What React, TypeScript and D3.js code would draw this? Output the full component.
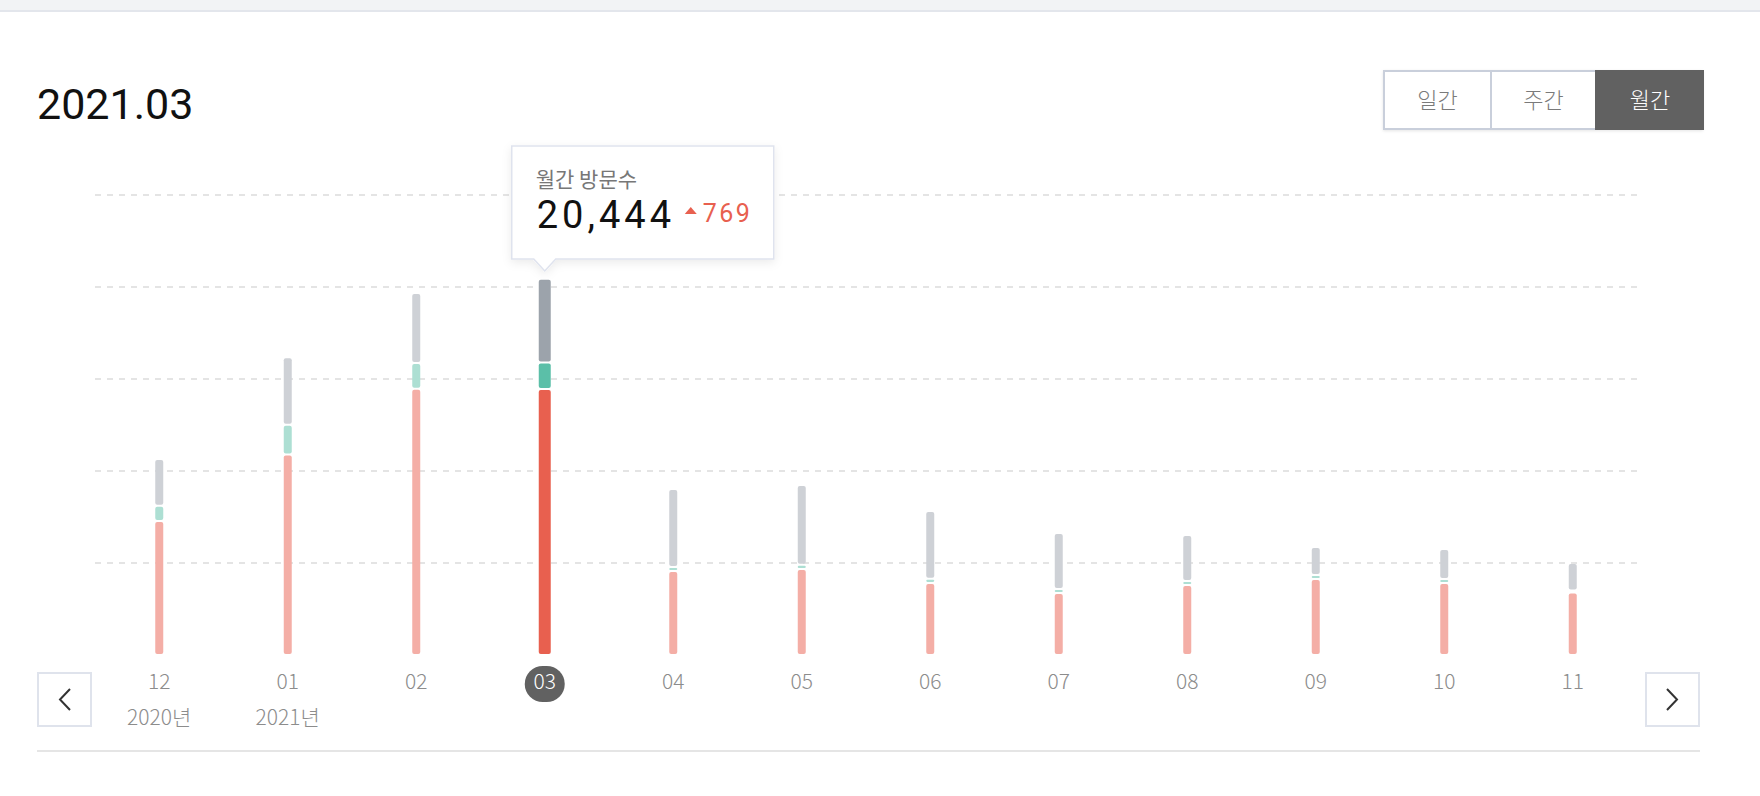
import React from "react";
import * as d3 from "d3";

const months = ["12", "01", "02", "03", "04", "05", "06", "07", "08", "09", "10", "11"];
const yearLabels = ["2020년", "2021년", "", "", "", "", "", "", "", "", "", ""];
const redValues = [7280, 10890, 14470, 14457, 4565, 4674, 3913, 3370, 3804, 4130, 3913, 3400];
const greenValues = [830, 1630, 1400, 1440, 218, 228, 234, 217, 218, 218, 217, 100];
const grayValues = [2540, 3660, 3805, 4547, 4239, 4337, 3679, 3043, 2500, 1522, 1631, 1500];
const gridTicks = [5000, 10000, 15000, 20000, 25000];
const periodButtons = ["일간", "주간", "월간"];

const selectedIndex = 3;
const keys = ["red", "green", "gray"];

const colors = {
  red: ["#f4aea6", "#e8604f"],
  green: ["#addfd3", "#5bbfa8"],
  gray: ["#ced1d6", "#9ca3ab"],
};

const W = 1760;
const H = 796;
const KR = "'Noto Sans CJK KR', 'Noto Sans', sans-serif";

export default function App() {
  const rows = months.map((m, i) => ({
    month: m,
    red: redValues[i],
    green: greenValues[i],
    gray: grayValues[i],
  }));

  const x = d3.scaleBand().domain(months).range([95, 1637]);
  const y = d3.scaleLinear().domain([0, 25000]).range([655, 195]);

  const stacked = d3.stack().keys(keys)(rows);

  const totals = rows.map((r) => r.red + r.green + r.gray);
  const selTotal = totals[selectedIndex];
  const diff = selTotal - totals[selectedIndex - 1];
  const selMonth = months[selectedIndex];
  const selX = x(selMonth) + x.bandwidth() / 2;

  // tooltip box
  const tipW = 262;
  const tipLeft = selX - 33;
  const tipTop = 146;
  const tipBottom = 259;

  const btnX = [1383, 1490, 1595, 1703];

  return (
    <svg
      width={W}
      height={H}
      style={{ position: "absolute", left: 0, top: 0, background: "#fff" }}
    >
      <defs>
        <filter id="tipShadow" x="-20%" y="-30%" width="140%" height="170%">
          <feDropShadow dx="0" dy="3" stdDeviation="5" floodColor="#000" floodOpacity="0.08" />
        </filter>
        <filter id="btnShadow" x="-10%" y="-20%" width="120%" height="150%">
          <feDropShadow dx="0" dy="1" stdDeviation="1.5" floodColor="#000" floodOpacity="0.1" />
        </filter>
      </defs>

      {/* top band */}
      <rect x={0} y={0} width={W} height={10} fill="#f2f3f5" />
      <rect x={0} y={10} width={W} height={2} fill="#e3e6ec" />

      {/* title */}
      <text x={37} y={119} fontFamily="Roboto, sans-serif" fontSize={43} fill="#111">
        {`2021.${selMonth}`}
      </text>

      {/* period buttons */}
      <g filter="url(#btnShadow)">
        <rect x={btnX[0]} y={70} width={btnX[3] - btnX[0]} height={60} fill="#fff" />
      </g>
      {periodButtons.map((b, i) => {
        const active = i === 2;
        return (
          <g key={b}>
            <rect
              x={btnX[i] + 1}
              y={71}
              width={btnX[i + 1] - btnX[i] - (active ? 1 : 0)}
              height={58}
              fill={active ? "#616161" : "#fff"}
              stroke={active ? "#616161" : "#c9cfdb"}
              strokeWidth={2}
            />
            <text
              x={(btnX[i] + btnX[i + 1]) / 2 + 1}
              y={108}
              textAnchor="middle"
              fontFamily={KR}
              fontSize={22}
              fontWeight={300}
              fill={active ? "#fff" : "#7a7a7a"}
            >
              {b}
            </text>
          </g>
        );
      })}

      {/* gridlines */}
      {gridTicks.map((t) => (
        <line
          key={t}
          x1={95}
          x2={1637}
          y1={Math.round(y(t))}
          y2={Math.round(y(t))}
          stroke="#e4e4e4"
          strokeWidth={2}
          strokeDasharray="6,6"
        />
      ))}

      {/* bars */}
      {stacked.map((series) => (
        <g key={series.key}>
          {series.map((d, i) => {
            const sel = i === selectedIndex;
            const w = sel ? 12 : 8;
            const cx = x(months[i]) + x.bandwidth() / 2;
            const top = y(d[1]) + 1;
            const h = y(d[0]) - y(d[1]) - 2;
            if (h <= 0.3) return null;
            return (
              <rect
                key={i}
                x={cx - w / 2}
                y={top}
                width={w}
                height={h}
                rx={Math.min(2, h / 2)}
                fill={colors[series.key][sel ? 1 : 0]}
              />
            );
          })}
        </g>
      ))}

      {/* x labels */}
      {months.map((m, i) => {
        const cx = x(m) + x.bandwidth() / 2;
        const sel = i === selectedIndex;
        return (
          <g key={m}>
            {sel && <rect x={cx - 20} y={666} width={40} height={36} rx={18} fill="#616161" />}
            <text
              x={cx}
              y={689}
              textAnchor="middle"
              fontFamily={KR}
              fontSize={21}
              fontWeight={300}
              fill={sel ? "#fff" : "#8c8c8c"}
            >
              {m}
            </text>
            {yearLabels[i] && (
              <text
                x={cx}
                y={725}
                textAnchor="middle"
                fontFamily={KR}
                fontSize={21}
                fontWeight={300}
                fill="#8c8c8c"
              >
                {yearLabels[i]}
              </text>
            )}
          </g>
        );
      })}

      {/* prev / next buttons */}
      <rect x={38} y={673} width={53} height={53} fill="#fff" stroke="#dfe3ec" strokeWidth={2} />
      <path d="M70,689 L60,699.5 L70,710" fill="none" stroke="#333" strokeWidth={2} />
      <rect x={1646} y={673} width={53} height={53} fill="#fff" stroke="#dfe3ec" strokeWidth={2} />
      <path d="M1667,689 L1677,699.5 L1667,710" fill="none" stroke="#333" strokeWidth={2} />

      {/* bottom rule */}
      <rect x={37} y={750} width={1663} height={2} fill="#e5e5e5" />

      {/* tooltip */}
      <g filter="url(#tipShadow)">
        <path
          d={`M${tipLeft},${tipTop} H${tipLeft + tipW} V${tipBottom} H${selX + 11} L${selX},${tipBottom + 12} L${selX - 11},${tipBottom} H${tipLeft} Z`}
          fill="#fff"
          stroke="#dfe3ee"
          strokeWidth={1.5}
        />
      </g>
      <text x={tipLeft + 24} y={187} fontFamily={KR} fontSize={21} fill="#777">
        월간 방문수
      </text>
      <text
        x={tipLeft + 25}
        y={228}
        fontFamily="Roboto, sans-serif"
        fontSize={38}
        letterSpacing={4}
        fill="#111"
      >
        {d3.format(",")(selTotal)}
      </text>
      <path
        d={`M${tipLeft + 173},${tipTop + 68} L${tipLeft + 179},${tipTop + 61} L${tipLeft + 185},${tipTop + 68} Z`}
        fill="#e8604f"
      />
      <text
        x={tipLeft + 191}
        y={222}
        fontFamily="Roboto, sans-serif"
        fontSize={25}
        letterSpacing={2.5}
        fill="#e8604f"
      >
        {d3.format(",")(diff)}
      </text>
    </svg>
  );
}
